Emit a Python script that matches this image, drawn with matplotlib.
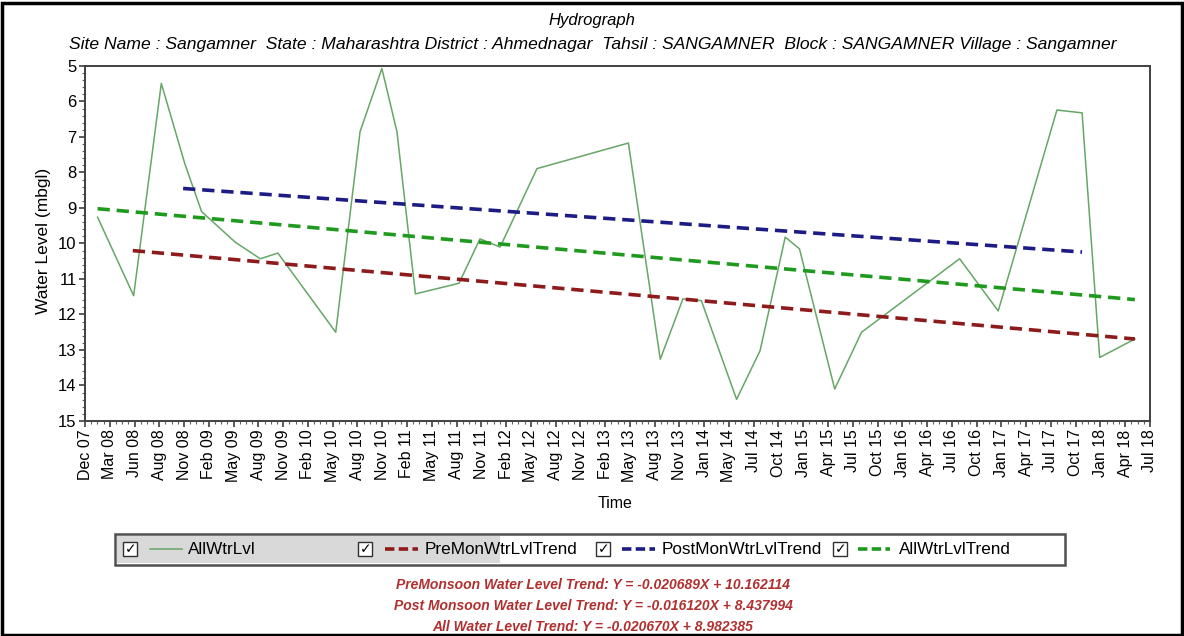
import matplotlib
matplotlib.use("Agg")
import matplotlib.pyplot as plt
from matplotlib.lines import Line2D
from matplotlib.patches import Rectangle
import numpy as np

# ---------------- data ----------------
# x = months since Dec 2007
tick_labels = ["Dec 07", "Mar 08", "Jun 08", "Aug 08", "Nov 08", "Feb 09", "May 09", "Aug 09",
               "Nov 09", "Feb 10", "May 10", "Aug 10", "Nov 10", "Feb 11", "May 11", "Aug 11",
               "Nov 11", "Feb 12", "May 12", "Aug 12", "Nov 12", "Feb 13", "May 13", "Aug 13",
               "Nov 13", "Jan 14", "May 14", "Jul 14", "Oct 14", "Jan 15", "Apr 15", "Jul 15",
               "Oct 15", "Jan 16", "Apr 16", "Jul 16", "Oct 16", "Jan 17", "Apr 17", "Jul 17",
               "Oct 17", "Jan 18", "Apr 18", "Jul 18"]
x_span = 127  # Dec 07 .. Jul 18 in months

all_months = [1.5, 5.8, 9.1, 11.9, 13.9, 17.9, 20.9, 23.0, 29.9, 32.8, 35.4, 37.2, 39.4,
              44.6, 47.1, 49.5, 53.9, 64.8, 68.6, 71.3, 73.5, 77.7, 80.5, 83.5, 85.2,
              89.4, 92.6, 104.3, 108.9, 115.9, 118.9, 121.0, 125.2]
all_levels = [9.26, 11.47, 5.49, 7.75, 9.10, 9.96, 10.43, 10.27, 12.50, 6.85, 5.07, 6.85, 11.42,
              11.12, 9.87, 10.10, 7.89, 7.17, 13.26, 11.56, 11.61, 14.39, 13.02, 9.82, 10.15,
              14.10, 12.50, 10.43, 11.90, 6.24, 6.32, 13.21, 12.69]

pre_months = [5.7, 125.2]
pre_levels = [10.20, 12.69]
post_months = [11.7, 118.9]
post_levels = [8.45, 10.24]
alltrend_months = [1.5, 125.2]
alltrend_levels = [9.02, 11.58]

series_names = ["AllWtrLvl", "PreMonWtrLvlTrend", "PostMonWtrLvlTrend", "AllWtrLvlTrend"]
equations = ["PreMonsoon Water Level Trend: Y = -0.020689X + 10.162114",
             "Post Monsoon Water Level Trend: Y = -0.016120X + 8.437994",
             "All Water Level Trend: Y = -0.020670X + 8.982385"]

# ---------------- figure ----------------
plt.rcParams['font.family'] = ['Liberation Sans', 'DejaVu Sans']
W, H = 1184, 636
fig = plt.figure(figsize=(W / 100, H / 100), dpi=100)


def fx(px):
    return px / W


def fy(py):
    return 1 - py / H


ax = fig.add_axes([fx(85), fy(421), fx(1150) - fx(85), fy(66) - fy(421)])

c_data = "#66a666"
c_pre = "#8e1b1b"
c_post = "#1c1c84"
c_all = "#1f9a1f"
dash = (3.4, 1.9)
lw_tr = 2.6

l_data, = ax.plot(all_months, all_levels, color=c_data, lw=1.1, zorder=3)
l_pre, = ax.plot(pre_months, pre_levels, color=c_pre, lw=lw_tr, dashes=dash, zorder=4)
l_post, = ax.plot(post_months, post_levels, color=c_post, lw=lw_tr, dashes=dash, zorder=4)
l_all, = ax.plot(alltrend_months, alltrend_levels, color=c_all, lw=lw_tr, dashes=dash, zorder=4)

ax.set_xlim(0, x_span)
ax.set_ylim(15, 5)
ax.set_xticks(np.linspace(0, x_span, len(tick_labels)))
ax.set_xticklabels(tick_labels, rotation=90, fontsize=11.5)
ax.set_xticks(np.linspace(0, x_span, (len(tick_labels) - 1) * 4 + 1), minor=True)
ax.set_yticks(np.arange(5, 16, 1))
ax.set_yticklabels([str(v) for v in range(5, 16)], fontsize=12)
ax.set_yticks(np.arange(5, 15.01, 0.2), minor=True)
ax.tick_params(axis='both', which='major', direction='out', length=4, width=1.2,
               color='#404040', pad=2)
ax.tick_params(axis='both', which='minor', direction='out', length=2, width=0.8,
               color='#606060')
for s in ax.spines.values():
    s.set_color('#404040')
    s.set_linewidth(1.4)

fig.text(fx(44), fy(241), "Water Level (mbgl)", rotation=90, ha='center', va='center',
         fontsize=12.5)
fig.text(fx(615), fy(503), "Time", ha='center', va='center', fontsize=11.5)

# titles
fig.text(fx(592), fy(20), "Hydrograph", ha='center', va='center', fontsize=12, style='italic')
fig.text(fx(593), fy(45),
         "Site Name : Sangamner  State : Maharashtra District : Ahmednagar  Tahsil : SANGAMNER  "
         "Block : SANGAMNER Village : Sangamner",
         ha='center', va='center', fontsize=12.6, style='italic')

# ---------------- legend ----------------
lg_y = 549
fig.add_artist(Rectangle((fx(115), fy(565)), fx(1065) - fx(115), fy(534) - fy(565),
                         transform=fig.transFigure, fc='white', ec='#505050', lw=1.8))
fig.add_artist(Rectangle((fx(117), fy(563)), fx(500) - fx(117), fy(536) - fy(563),
                         transform=fig.transFigure, fc='#d9d9d9', ec='none', lw=0))

handles = [l_data, l_pre, l_post, l_all]
box_x = [130, 365, 603, 840]
seg_x = [(150, 182), (385, 418), (622, 655), (858, 890)]
txt_x = [188, 425, 662, 899]
for h, name, bx, (s0, s1), tx in zip(handles, series_names, box_x, seg_x, txt_x):
    fig.add_artist(Rectangle((fx(bx - 7), fy(lg_y + 7)), fx(14), 14 / H,
                             transform=fig.transFigure, fc='white', ec='#303030', lw=1.0))
    fig.text(fx(bx + 0.5), fy(lg_y), "\u2713", ha='center', va='center', fontsize=10,
             fontweight='bold', family='DejaVu Sans', color='black')
    ln = Line2D([fx(s0), fx(s1)], [fy(lg_y), fy(lg_y)], transform=fig.transFigure,
                color=h.get_color(), lw=h.get_linewidth(), linestyle=h.get_linestyle())
    if h is not l_data:
        ln.set_dashes((2.6, 1.2))
    fig.add_artist(ln)
    fig.text(fx(tx), fy(lg_y), name, ha='left', va='center', fontsize=12.3)

# equations
for i, eq in enumerate(equations):
    fig.text(fx(593), fy(585 + 21 * i), eq, ha='center', va='center', fontsize=10,
             style='italic', fontweight='bold', color='#b03030')

# outer frame
fig.add_artist(Rectangle((fx(2), fy(H - 1)), fx(W - 4), fy(3) - fy(H - 1),
                         transform=fig.transFigure, fill=False, ec='black', lw=2.5))

fig.savefig("out.png", dpi=100)
